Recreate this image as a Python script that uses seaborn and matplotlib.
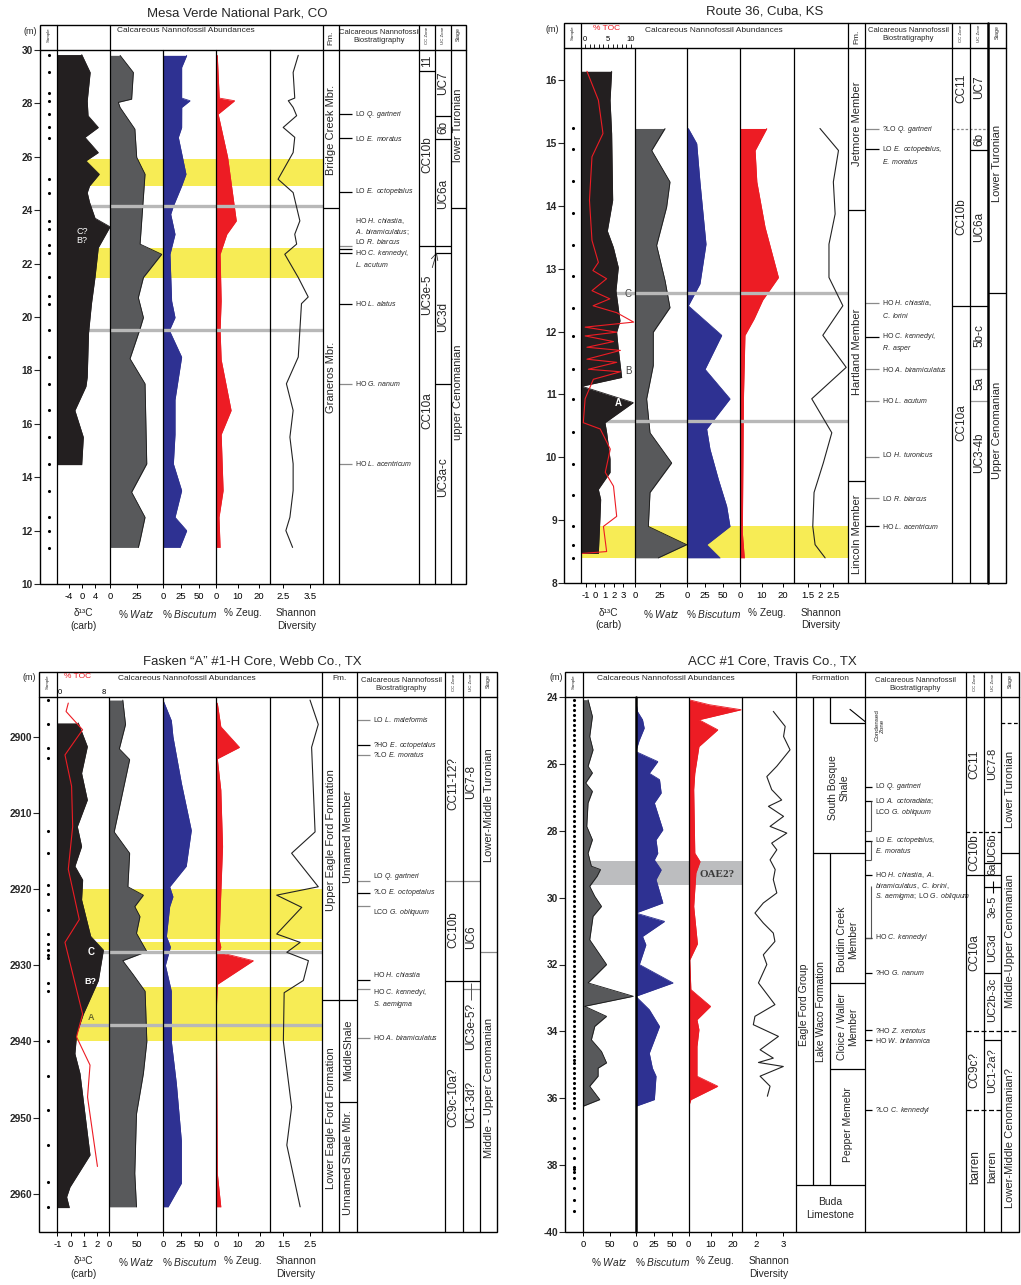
import matplotlib
matplotlib.use("Agg")
import matplotlib.pyplot as plt
from matplotlib.ticker import MultipleLocator
from matplotlib.patches import Rectangle
from matplotlib import font_manager as fm
import seaborn as sns

# ------------------------------------------------------------------ DATA
# ---- Mesa Verde National Park, CO (depth in m)
MV_SAMPLE_DEPTH = [29.83, 29.16, 28.4, 28.1, 27.6, 27.1, 26.7, 25.16, 24.66, 23.6, 23.3, 22.7, 22.4,
                   21.5, 20.8, 20.5, 19.5, 18.5, 17.5, 16.5, 15.5, 14.5, 13.5, 12.5, 12.0, 11.35]
MV_D13C_DEPTH = [29.83, 29.16, 28.1, 27.54, 27.1, 26.73, 26.16, 25.85, 25.35, 24.91, 24.66, 24.3,
                 23.7, 23.38, 22.6, 21.5, 20.5, 19.4, 17.75, 17.4, 16.5, 15.5, 14.47]
MV_D13C = [-0.1, 2.5, 1.6, 1.85, 5.0, 0.9, 5.0, 1.2, 5.3, 2.3, 1.6, 2.3,
           4.0, 8.6, 5.0, 4.0, 2.9, 2.0, 1.6, 1.2, -2.2, 0.4, -0.1]
MV_WATZ_DEPTH = [29.8, 29.16, 28.16, 28.04, 27.85, 27.04, 25.98, 25.35, 22.73, 22.35, 21.48,
                 20.73, 19.98, 19.56, 18.44, 17.5, 14.5, 13.44, 12.5, 11.63, 11.37]
MV_WATZ = [9.3, 21.6, 20.0, 7.7, 9.3, 23.0, 24.7, 32.4, 27.8, 47.8, 30.9,
           26.2, 30.9, 27.8, 18.5, 32.4, 34.0, 20.0, 32.4, 27.8, 26.2]
MV_BISC_DEPTH = [29.8, 29.35, 28.2, 28.1, 27.85, 27.1, 26.73, 25.35, 24.91, 24.16, 23.85, 23.1,
                 22.35, 20.6, 19.98, 19.5, 18.5, 16.9, 15.6, 14.5, 13.5, 12.5, 12.0, 11.37]
MV_BISC = [32.9, 25.9, 25.9, 37.5, 26.0, 25.9, 21.3, 31.9, 25.9, 14.4, 10.7, 16.7,
           9.7, 12.0, 16.7, 8.8, 25.9, 16.7, 16.7, 14.4, 25.9, 16.7, 32.9, 23.6]
MV_ZEUG_DEPTH = [29.8, 28.2, 28.1, 27.6, 25.98, 23.6, 23.1, 22.35, 20.6, 19.5, 18.4, 16.5,
                 15.6, 13.5, 12.5, 11.37]
MV_ZEUG = [0.6, 1.5, 8.6, 1.0, 5.4, 9.4, 5.0, 1.9, 2.4, 1.9, 2.4, 7.0, 2.4, 3.3, 1.4, 1.9]
MV_SHAN_DEPTH = [29.8, 29.16, 28.2, 28.1, 27.85, 27.54, 27.1, 26.73, 26.16, 25.16, 24.66, 23.6,
                 23.1, 22.73, 22.35, 21.48, 20.75, 20.5, 19.5, 18.5, 17.5, 16.5, 15.5, 14.5,
                 13.5, 12.5, 12.0, 11.37]
MV_SHAN = [3.06, 2.87, 2.93, 2.69, 2.87, 3.0, 2.5, 2.93, 2.87, 2.31, 2.87, 3.12,
           2.93, 3.0, 2.56, 3.06, 3.43, 3.18, 3.12, 3.06, 2.62, 2.87, 2.75, 2.87,
           2.87, 2.75, 2.6, 2.85]
MV_YELLOW_TOP = [25.9, 22.6]
MV_YELLOW_BASE = [24.9, 21.45]
MV_GRAY = [24.16, 19.5]
MV_FM_BOUNDS = [24.08]
MV_FM_NAMES = ["Bridge Creek Mbr.", "Graneros Mbr."]
MV_FM_MID = [27.0, 17.75]
MV_EVENT_DEPTH = [27.6, 26.7, 24.69, 22.66, 22.54, 22.39, 20.5, 17.5, 14.5]
MV_EVENT_KIND = ['firm', 'firm', 'firm', 'approx', 'firm', 'firm', 'firm', 'approx', 'approx']
MV_LABEL_DEPTH = [27.6, 26.7, 24.69, 23.58, 23.2, 22.83, 22.38, 21.98, 20.5, 17.5, 14.5]
MV_LABELS = ["LO |Q. gartneri|", "LO |E. moratus|", "LO |E. octopetalus|", "HO |H. chiastia,|",
             "|A. biramiculatus;|", "LO |R. biarcus|", "HO |C. kennedyi,|", "|L. acutum|",
             "HO |L. alatus|", "HO |G. nanum|", "HO |L. acentricum|"]
MV_CC_NAMES = ["11", "CC10b", "CC10a"]
MV_CC_MID = [29.6, 26.1, 16.5]
MV_UC_NAMES = ["UC7", "6b", "UC6a", "UC3e-5", "UC3d", "UC3a-c"]
MV_UC_MID = [28.75, 27.1, 24.6, 20.85, 20.0, 14.0]
MV_STAGE_NAMES = ["lower Turonian", "upper Cenomanian"]
MV_STAGE_MID = [27.2, 17.2]

# ---- Route 36, Cuba, KS
RT_SAMPLE_DEPTH = [15.23, 14.9, 14.39, 13.89, 13.38, 12.89, 12.38, 11.93, 11.4, 10.92, 10.4,
                   9.9, 9.4, 8.9, 8.6, 8.4]
RT_D13C_DEPTH = [16.14, 15.68, 15.15, 14.09, 13.6, 13.34, 13.02, 12.65, 12.17, 11.99, 11.72,
                 11.27, 11.13, 10.87, 10.55, 10.39, 9.97, 9.76, 9.49, 9.33, 9.06, 8.47]
RT_D13C = [1.77, 1.6, 1.77, 1.88, 1.31, 1.95, 2.48, 2.23, 2.66, 2.3, 2.48,
           2.84, -1.42, 4.07, 1.06, 1.24, 1.6, 1.6, 0.35, 0.6, 0.53, 0.35]
RT_TOC_DEPTH = [16.14, 15.68, 15.15, 14.78, 14.09, 13.45, 13.1, 12.97, 12.84, 12.65, 12.52, 12.41,
                12.3, 12.15, 12.07, 11.99, 11.93, 11.84, 11.75, 11.7, 11.56, 11.51, 11.4, 11.36,
                11.24, 10.93, 10.55, 10.45, 10.13, 9.76, 9.54, 9.06, 8.9, 8.5, 8.47]
RT_TOC = [0.4, 2.9, 3.9, 1.5, 0.95, 1.5, 2.9, 1.7, 4.7, 1.5, 5.4, 1.75,
          6.9, 10.6, 0.0, 6.9, 0.0, 6.2, 0.4, 7.7, 0.4, 6.9, 0.7, 7.7,
          1.8, 0.0, -0.4, 3.3, 5.5, 4.4, 6.2, 6.9, 4.0, 4.7, -0.7]
RT_WATZ_DEPTH = [15.23, 14.88, 14.38, 13.98, 13.37, 12.81, 12.38, 11.99, 11.46, 10.93, 10.39,
                 9.91, 9.44, 8.9, 8.61, 8.4]
RT_WATZ = [30.4, 16.9, 35.4, 32.0, 21.9, 30.4, 35.4, 18.5, 18.5, 11.8, 15.2, 37.1, 15.2, 13.5, 52.3, 23.6]
RT_BISC_DEPTH = [15.23, 14.99, 14.38, 13.39, 12.76, 12.41, 11.94, 11.4, 10.93, 10.45, 10.13,
                 9.65, 9.22, 8.9, 8.61, 8.4]
RT_BISC = [1.8, 13.5, 18.0, 26.4, 18.0, 1.8, 48.2, 25.0, 59.7, 27.3, 31.9, 43.5, 55.1, 59.7, 27.3, 45.8]
RT_ZEUG_DEPTH = [15.23, 14.88, 14.38, 13.66, 12.86, 12.5, 12.2, 11.94, 10.93, 8.8, 8.4]
RT_ZEUG = [12.4, 7.0, 7.8, 11.6, 17.8, 10.5, 6.5, 2.3, 1.6, 1.1, 2.0]
RT_SHAN_DEPTH = [15.23, 14.88, 14.38, 13.87, 13.39, 12.86, 12.41, 11.94, 11.43, 10.93, 10.39,
                 9.91, 9.44, 8.9, 8.61, 8.4]
RT_SHAN = [1.98, 2.7, 2.5, 2.57, 2.33, 2.33, 2.87, 2.09, 3.0, 1.66, 2.44, 2.11, 1.75, 1.7, 1.79, 2.18]
RT_YELLOW_TOP = [8.91]
RT_YELLOW_BASE = [8.39]
RT_GRAY = [12.62, 10.58]
RT_FM_BOUNDS = [13.94, 9.62]
RT_FM_NAMES = ["Jetmore Member", "Hartland Member", "Lincoln Member"]
RT_FM_MID = [15.3, 11.67, 8.77]
RT_EVENT_DEPTH = [15.22, 14.9, 12.45, 11.92, 11.4, 10.9, 10.0, 9.35, 8.9]
RT_EVENT_KIND = ['approx', 'firm', 'approx', 'firm', 'approx', 'approx', 'approx', 'approx', 'firm']
RT_LABEL_DEPTH = [15.22, 14.9, 14.71, 12.45, 12.25, 11.92, 11.73, 11.4, 10.9, 10.05, 9.35, 8.9]
RT_LABELS = ["?LO |Q. gartneri|", "LO |E. octopetalus,|", "|E. moratus|", "HO |H. chiastia,|",
             "|C. lorini|", "HO |C. kennedyi,|", "|R. asper|", "HO |A. biramiculatus|",
             "HO |L. acutum|", "LO |H. turonicus|", "LO |R. biarcus|", "HO |L. acentricum|"]
RT_CC_NAMES = ["CC11", "CC10b", "CC10a"]
RT_CC_MID = [15.87, 13.82, 10.55]
RT_UC_NAMES = ["UC7", "6b", "UC6a", "5b-c", "5a", "UC3-4b"]
RT_UC_MID = [15.88, 15.05, 13.66, 11.94, 11.17, 10.07]
RT_STAGE_NAMES = ["Lower Turonian", "Upper Cenomanian"]
RT_STAGE_MID = [14.67, 10.42]

# ---- Fasken "A" #1-H Core, Webb Co., TX (depth in m)
FK_SAMPLE_DEPTH = [2895.2, 2898.3, 2901.5, 2902.8, 2912.4, 2915.3, 2919.5, 2920.7, 2922.7, 2925.9,
                   2927.2, 2928.0, 2928.6, 2929.1, 2932.3, 2933.4, 2939.9, 2944.5, 2949.0, 2953.6,
                   2958.4, 2961.7]
FK_D13C_DEPTH = [2898.2, 2901.3, 2904.8, 2908.3, 2911.8, 2914.4, 2917.0, 2918.8, 2921.4, 2926.2,
                 2928.0, 2932.0, 2936.4, 2939.0, 2941.6, 2944.2, 2949.5, 2954.9, 2959.1, 2960.4, 2961.8]
FK_D13C = [0.57, 1.25, 0.82, 1.25, 0.5, 0.82, 0.32, 0.9, 0.82, 1.5,
           2.45, 2.07, 0.95, 0.45, 0.32, 0.7, 1.07, 1.45, -0.05, -0.3, -0.1]
FK_TOC_DEPTH = [2895.6, 2896.7, 2899.1, 2902.4, 2906.5, 2911.8, 2917.4, 2924.0, 2927.0, 2936.4,
                2939.4, 2943.1, 2947.3, 2956.4]
FK_TOC = [1.5, 1.1, 4.1, 0.9, 2.1, 2.3, 1.5, 3.5, 0.9, 4.1, 3.0, 5.45, 5.0, 6.8]
FK_WATZ_DEPTH = [2895.2, 2898.4, 2901.6, 2903.0, 2912.5, 2915.3, 2919.7, 2920.8, 2922.3, 2923.6,
                 2925.8, 2928.2, 2929.4, 2931.2, 2933.4, 2940.0, 2944.2, 2949.5, 2957.3, 2961.7]
FK_WATZ = [25.0, 30.0, 18.7, 37.5, 9.4, 37.5, 34.3, 62.4, 46.8, 56.2,
           49.9, 68.7, 25.0, 43.7, 65.5, 68.7, 62.4, 49.9, 46.8, 49.9]
FK_BISC_DEPTH = [2895.2, 2897.9, 2900.0, 2906.1, 2912.3, 2917.0, 2919.7, 2921.0, 2922.3, 2926.2,
                 2927.6, 2930.0, 2933.4, 2940.0, 2945.5, 2953.0, 2958.6, 2961.7]
FK_BISC = [0.0, 11.5, 13.7, 25.3, 39.0, 32.0, 9.2, 13.7, 9.2, 4.7, 10.2, 3.3, 11.5, 11.5, 18.4, 25.3, 25.3, 6.9]
FK_ZEUG_DEPTH = [2895.6, 2898.7, 2901.4, 2902.9, 2907.0, 2914.4, 2926.6, 2927.6, 2928.3, 2929.4,
                 2932.5, 2935.5, 2957.3, 2961.7]
FK_ZEUG = [0.6, 2.2, 10.7, 0.6, 2.2, 3.0, 1.4, 2.2, 1.4, 17.0, 0.6, 0.2, 0.6, 2.2]
FK_SHAN_DEPTH = [2895.2, 2898.4, 2901.4, 2912.5, 2915.3, 2919.7, 2920.8, 2922.4, 2925.9, 2927.0,
                 2928.3, 2929.4, 2932.0, 2933.6, 2940.0, 2948.6, 2953.6, 2961.7]
FK_SHAN = [2.5, 2.81, 2.56, 2.69, 1.81, 2.81, 1.25, 2.19, 1.25, 2.13, 1.63, 2.44, 2.25, 1.53, 1.5, 1.81, 1.63, 2.13]
FK_YELLOW_TOP = [2920.0, 2926.9, 2932.8]
FK_YELLOW_BASE = [2926.6, 2928.0, 2940.0]
FK_GRAY = [2928.3, 2937.8]
FK_FM_OUTER_BOUNDS = [2934.6]
FK_FM_OUTER_NAMES = ["Upper Eagle Ford Formation", "Lower Eagle Ford Formation"]
FK_FM_OUTER_MID = [2913.6, 2950.0]
FK_FM_INNER_BOUNDS = [2934.6, 2947.9]
FK_FM_INNER_NAMES = ["Unnamed Member", "MiddleShale", "Unnamed Shale Mbr."]
FK_FM_INNER_MID = [2913.1, 2941.2, 2955.9]
FK_EVENT_DEPTH = [2897.8, 2901.1, 2902.4, 2919.0, 2920.5, 2922.2, 2931.9, 2933.1, 2939.5]
FK_EVENT_KIND = ['approx', 'firm', 'approx', 'approx', 'firm', 'approx', 'firm', 'approx', 'approx']
FK_LABEL_DEPTH = [2897.8, 2901.1, 2902.4, 2918.3, 2920.4, 2923.1, 2931.2, 2933.6, 2935.2, 2939.5]
FK_LABELS = ["LO |L. maleformis|", "?HO |E. octopetalus|", "?LO |E. moratus|", "LO |Q. gartneri|",
             "?LO |E. octopetalus|", "LCO |G. obliquum|", "HO |H. chiastia|", "HO |C. kennedyi,|",
             "|S. aemigma|", "HO |A. biramiculatus|"]
FK_CC_NAMES = ["CC11-12?", "CC10b", "CC9c-10a?"]
FK_CC_MID = [2906.2, 2925.3, 2947.3]
FK_UC_NAMES = ["UC7-8", "UC6", "UC3e-5?", "UC1-3d?"]
FK_UC_MID = [2906.0, 2926.3, 2938.0, 2948.3]
FK_STAGE_NAMES = ["Lower-Middle Turonian", "Middle - Upper Cenomanian"]
FK_STAGE_MID = [2909.0, 2946.1]

# ---- ACC #1 Core, Travis Co., TX
ACC_SAMPLE_DEPTH = [24.1, 24.25, 24.4, 24.55, 24.7, 24.85, 25.0, 25.15, 25.3, 25.45, 25.6, 25.75,
                    25.9, 26.05, 26.2, 26.35, 26.5, 26.65, 26.8, 26.95, 27.1, 27.25, 27.4, 27.55,
                    27.7, 27.85, 28.0, 28.15, 28.3, 28.45, 28.6, 28.75, 28.9, 29.05, 29.2, 29.35,
                    29.5, 29.65, 29.8, 29.95, 30.1, 30.25, 30.4, 30.55, 30.7, 30.85, 31.0, 31.15,
                    31.3, 31.45, 31.6, 31.75, 31.9, 32.05, 32.2, 32.35, 32.5, 32.65, 32.8, 32.95,
                    33.1, 33.25, 33.4, 33.55, 33.7, 33.85, 34.0, 34.15, 34.3, 34.45, 34.6, 34.75,
                    34.85, 34.95, 35.1, 35.25, 35.4, 35.55, 35.7, 35.85, 36.0, 36.15, 36.3, 36.6,
                    36.9, 37.2, 37.5, 37.8, 38.05, 38.12, 38.2, 38.38, 38.68, 39.05, 39.38]
ACC_WATZ_DEPTH = [24.08, 24.58, 25.18, 25.58, 26.07, 26.27, 26.57, 26.82, 27.17, 27.87,
                  28.27, 28.67, 29.06, 29.16, 29.36, 29.66, 29.96, 30.26, 30.56, 31.26,
                  32.0, 32.55, 32.95, 33.25, 33.55, 33.85, 34.25, 34.6, 34.94, 35.1,
                  35.34, 35.64, 36.04, 36.24]
ACC_WATZ = [9.4, 17.5, 12.5, 18.7, 9.4, 17.5, 5.0, 17.5, 9.4, 7.0,
            17.5, 9.4, 15.6, 32.5, 26.2, 12.5, 21.9, 34.4, 18.7, 12.5,
            43.8, 9.4, 93.6, 3.1, 43.8, 21.9, 15.6, 34.4, 43.8, 28.1,
            28.1, 12.5, 31.2, 0.0]
ACC_BISC_DEPTH = [24.08, 24.43, 24.68, 24.93, 25.3, 25.63, 25.93, 26.28, 26.47, 26.87,
                  27.17, 27.97, 28.27, 28.67, 28.87, 29.17, 29.46, 30.16, 30.46, 30.71,
                  31.16, 31.41, 32.0, 32.55, 32.95, 33.35, 33.85, 34.65, 35.1, 35.34,
                  36.04, 36.24]
ACC_BISC = [0.0, 2.3, 9.4, 11.7, 4.7, 0.0, 30.4, 18.7, 32.8, 35.1,
            25.7, 37.4, 28.0, 30.4, 25.7, 35.1, 28.0, 37.4, 0.0, 39.7,
            9.4, 14.0, 5.0, 51.4, 0.0, 18.7, 32.8, 18.7, 23.0, 28.0,
            25.7, 0.0]
ACC_ZEUG_DEPTH = [24.08, 24.23, 24.38, 24.68, 24.98, 25.48, 26.28, 26.77, 28.67, 28.92,
                  29.26, 30.26, 31.38, 31.86, 32.75, 33.25, 33.65, 33.95, 34.45, 35.34,
                  35.64, 36.04, 36.24]
ACC_ZEUG = [0.0, 9.4, 24.0, 4.7, 13.3, 4.7, 2.8, 2.3, 2.8, 5.2,
            3.3, 2.3, 4.0, 0.5, 1.0, 10.0, 3.8, 4.7, 3.8, 3.8,
            13.3, 1.0, 0.0]
ACC_SHAN_DEPTH = [24.43, 24.88, 25.18, 25.58, 26.07, 26.38, 26.77, 27.08, 27.27, 27.57,
                  27.87, 28.07, 28.37, 28.57, 28.87, 29.16, 29.46, 29.86, 30.16, 30.46,
                  30.76, 31.06, 31.31, 31.71, 32.0, 32.55, 33.2, 33.55, 33.8, 34.15,
                  34.55, 34.8, 34.93, 35.05, 35.34, 35.64, 35.94]
ACC_SHAN = [2.65, 3.09, 3.03, 3.27, 2.78, 2.41, 2.59, 2.96, 2.47, 3.03,
            2.53, 3.15, 2.59, 2.78, 2.53, 2.72, 2.65, 2.78, 2.28, 1.97,
            2.28, 2.65, 2.71, 2.28, 2.41, 2.1, 2.71, 1.97, 1.91, 2.84,
            2.16, 2.65, 2.1, 3.02, 2.16, 2.53, 2.43]
ACC_OAE_TOP = [28.9]
ACC_OAE_BASE = [29.63]
ACC_EVENT_DEPTH = [26.69, 27.12, 28.3, 29.32, 31.2, 32.25, 33.97, 34.27, 36.36]
ACC_LABEL_DEPTH = [26.69, 27.12, 27.45, 28.3, 28.6, 29.32, 29.64, 29.96, 31.2, 32.25, 33.97, 34.27, 36.36]
ACC_LABELS = ["LO |Q. gartneri|", "LO |A. octoradiata;|", "LCO |G. obliquum|", "LO |E. octopetalus,|",
              "|E. moratus|", "HO |H. chiastia, A.|", "|biramiculatus, C. lorini,|",
              "|S. aemigma;| LO |G. obliquum|", "HO |C. kennedyi|", "?HO |G. nanum|",
              "?HO |Z. xenotus|", "HO |W. britannica|", "?LO |C. kennedyi|"]
ACC_BRACKET_TOP = [27.12, 28.3, 29.64]
ACC_BRACKET_BASE = [28.02, 28.87, 31.2]
ACC_CC_NAMES = ["CC11", "CC10b", "CC10a", "CC9c?", "barren"]
ACC_CC_MID = [26.0, 28.65, 31.65, 35.15, 38.05]
ACC_UC_NAMES = ["UC7-8", "UC6b", "6a", "3e-5", "UC3d", "UC2b-3c", "UC1-2a?", "barren"]
ACC_UC_MID = [26.0, 28.5, 29.13, 30.27, 31.5, 33.05, 35.17, 38.05]
ACC_STAGE_NAMES = ["Lower Turonian", "Middle-Upper Cenomanian", "Lower-Middle Cenomanian?"]
ACC_STAGE_MID = [26.75, 31.3, 37.2]

# ------------------------------------------------------------------ STYLE
sns.set_theme(style="white")
_names = {f.name for f in fm.fontManager.ttflist}
NARROW_NAME = 'Liberation Sans Narrow' if 'Liberation Sans Narrow' in _names else 'Liberation Sans'
NARROW = [NARROW_NAME, 'DejaVu Sans']
plt.rcParams['font.family'] = ['Liberation Sans', 'DejaVu Sans']
plt.rcParams['mathtext.fontset'] = 'custom'
plt.rcParams['mathtext.rm'] = NARROW_NAME
plt.rcParams['mathtext.it'] = NARROW_NAME + ':italic'
plt.rcParams['mathtext.bf'] = NARROW_NAME + ':bold'
plt.rcParams['axes.unicode_minus'] = False

BLACK_C = '#231f20'
WATZ_C = '#58595b'
BISC_C = '#2e3192'
RED_C = '#ed1c24'
YELLOW = '#f7ec55'
GRAYLINE = '#b8b8b8'
EVENT_COL = {'firm': 'black', 'approx': '#8a8a8a'}

W, H = 1021, 1285
fig = plt.figure(figsize=(W / 100, H / 100), dpi=100)


def frac(x0, y0, x1, y1):
    return [x0 / W, 1 - y1 / H, (x1 - x0) / W, (y1 - y0) / H]


def fmt(s):
    parts = s.split('|')
    out = ''
    for i, p in enumerate(parts):
        if i % 2 == 1 and p:
            out += '$\\mathit{' + p.replace(' ', '\\ ') + '}$'
        else:
            out += p
    return out


def depth_axes(P, x0, x1):
    ax = fig.add_axes(frac(x0, P['hbot'], x1, P['bot']))
    ax.set_facecolor('none')
    ax.grid(False)
    for s in ax.spines.values():
        s.set_visible(False)
    ax.set_ylim(P['d_bot'], P['d_top'])
    ax.set_yticks([])
    return ax


def data_col(P, key, xlim, ticks):
    ax = depth_axes(P, *P[key])
    ax.set_xlim(*xlim)
    ax.set_xticks(ticks)
    ax.set_xticklabels(['%g' % t for t in ticks])
    ax.tick_params(axis='x', bottom=True, top=False, direction='out', length=3, width=0.7,
                   labelsize=6.8, pad=2.5, colors='black')
    return ax


def profile(ax, depth, vals, color, edge, lw=0.6, fill=True, z=2):
    if fill:
        ax.fill_betweenx(depth, ax.get_xlim()[0], vals, color=color, lw=0, zorder=z)
    sns.lineplot(x=vals, y=depth, ax=ax, sort=False, estimator=None, color=edge, lw=lw, zorder=z + 0.1)
    ax.set_xlabel('')
    ax.set_ylabel('')


def bands(ax, tops, bases, grays, gray_z, color=YELLOW):
    for a, b in zip(tops, bases):
        ax.axhspan(min(a, b), max(a, b), color=color, lw=0, zorder=1)
    for g in grays:
        ax.axhline(g, color=GRAYLINE, lw=2.4, zorder=gray_z)


def sample_col(P, depths, ticks, labels):
    ax = depth_axes(P, *P['samp'])
    ax.set_xlim(0, 1)
    sns.scatterplot(x=[0.5] * len(depths), y=depths, ax=ax, color='black', s=5, linewidth=0, zorder=3)
    ax.set_xlabel('')
    ax.set_ylabel('')
    ax.set_xticks([])
    ax.set_yticks(ticks)
    ax.set_yticklabels(labels)
    ax.tick_params(axis='y', left=True, direction='out', length=4, width=0.8, labelsize=7.3, pad=1)
    for lab in ax.get_yticklabels():
        lab.set_fontweight('bold')
    return ax


def toc_axis(ax, P, depth, vals, xlim, ticks, minor, ticklen):
    tax = ax.twiny()
    tax.set_xlim(*xlim)
    tax.set_ylim(P['d_bot'], P['d_top'])
    for s in tax.spines.values():
        s.set_visible(False)
    tax.grid(False)
    sns.lineplot(x=vals, y=depth, ax=tax, sort=False, estimator=None, color=RED_C, lw=0.8, zorder=4)
    tax.set_xlabel('')
    tax.set_ylabel('')
    tax.set_xticks(ticks)
    tax.set_xticklabels(['%g' % t for t in ticks])
    if minor:
        tax.xaxis.set_minor_locator(MultipleLocator(1))
    tax.tick_params(axis='x', which='both', top=True, bottom=False, labeltop=True, labelbottom=False,
                    direction='out', length=ticklen, width=0.6, labelsize=5.5, pad=0.5, colors='black')
    tax.set_yticks([])
    return tax


def strat_axes(P, x0):
    ax = fig.add_axes(frac(x0, P['hbot'], P['right'], P['bot']))
    ax.set_xlim(x0, P['right'])
    ax.set_ylim(P['d_bot'], P['d_top'])
    ax.axis('off')
    return ax


def vlabels(sax, xc, depths, names, size=8.0, family=None):
    for d, t in zip(depths, names):
        sax.text(xc, d, t, rotation=90, ha='center', va='center', fontsize=size,
                 family=family if family else ['Liberation Sans', 'DejaVu Sans'])


def events(sax, x0, x1, depths, kinds):
    for d, k in zip(depths, kinds):
        sax.hlines(d, x0, x1, color=EVENT_COL[k], lw=0.9)


def elabels(sax, x, depths, texts, size=5.0):
    for d, t in zip(depths, texts):
        sax.text(x, d, fmt(t), fontsize=size, va='center', ha='left', family=NARROW)


def hb(sax, d, x0, x1, ls='-', color='black', lw=0.9):
    sax.hlines(d, x0, x1, colors=color, linestyles=ls, lw=lw)


# ------------------------------------------------------------------ PANEL LAYOUTS
P1 = dict(left=40, right=466, htop=25, hbot=50, bot=584, d_top=30.0, d_bot=10.0,
          samp=(40, 57), d13c=(57, 110), watz=(110, 163), bisc=(163, 216), zeug=(216, 270), shan=(270, 323))
P2 = dict(left=564, right=1006, htop=23, hbot=48, bot=583, d_top=16.51, d_bot=8.0,
          samp=(564, 581), d13c=(581, 635), watz=(635, 687), bisc=(687, 740), zeug=(740, 794), shan=(794, 848))
P3 = dict(left=39, right=497, htop=672, hbot=697, bot=1232, d_top=2894.8, d_bot=2965.0,
          samp=(39, 57), d13c=(57, 109), watz=(109, 163), bisc=(163, 216), zeug=(216, 269.5), shan=(269.5, 322))
P4 = dict(left=565, right=1019, htop=672, hbot=697, bot=1232, d_top=24.0, d_bot=40.0,
          samp=(565, 583), watz=(583, 635.7), bisc=(635.7, 688.7), zeug=(688.7, 742), shan=(742, 795.7))

# ================================================================== PANEL 1
sample_col(P1, MV_SAMPLE_DEPTH, list(range(10, 31, 2)), [str(t) for t in range(10, 31, 2)])
ax = data_col(P1, 'd13c', (-7.7, 8.6), [-4, 0, 4])
bands(ax, MV_YELLOW_TOP, MV_YELLOW_BASE, MV_GRAY, 1.5)
profile(ax, MV_D13C_DEPTH, MV_D13C, BLACK_C, BLACK_C)
ax.text(0.0, 23.05, 'C?\nB?', color='white', fontsize=6.5, ha='center', va='center', linespacing=1.0,
        family=NARROW, zorder=5)
ax = data_col(P1, 'watz', (0, 49), [0, 25])
bands(ax, MV_YELLOW_TOP, MV_YELLOW_BASE, MV_GRAY, 3)
profile(ax, MV_WATZ_DEPTH, MV_WATZ, WATZ_C, '#1a1a1a')
ax = data_col(P1, 'bisc', (0, 73.6), [0, 25, 50])
bands(ax, MV_YELLOW_TOP, MV_YELLOW_BASE, MV_GRAY, 3)
profile(ax, MV_BISC_DEPTH, MV_BISC, BISC_C, BISC_C)
ax = data_col(P1, 'zeug', (0, 25), [0, 10, 20])
bands(ax, MV_YELLOW_TOP, MV_YELLOW_BASE, MV_GRAY, 3)
profile(ax, MV_ZEUG_DEPTH, MV_ZEUG, RED_C, RED_C)
ax = data_col(P1, 'shan', (2.01, 3.98), [2.5, 3.5])
bands(ax, MV_YELLOW_TOP, MV_YELLOW_BASE, MV_GRAY, 1.5)
profile(ax, MV_SHAN_DEPTH, MV_SHAN, None, '#222222', lw=0.8, fill=False)

sax = strat_axes(P1, 323)
for b in MV_FM_BOUNDS:
    hb(sax, b, 323, 339)
vlabels(sax, 331, MV_FM_MID, MV_FM_NAMES)
events(sax, 339, 352, MV_EVENT_DEPTH, MV_EVENT_KIND)
elabels(sax, 355, MV_LABEL_DEPTH, MV_LABELS)
hb(sax, 29.2, 419, 435)
hb(sax, 22.66, 419, 451)
for b in [27.54, 26.66, 22.4, 17.5]:
    hb(sax, b, 435, 451)
hb(sax, 24.08, 451, 466)
vlabels(sax, 427, MV_CC_MID, MV_CC_NAMES, size=8.5)
vlabels(sax, 443, [MV_UC_MID[i] for i in (0, 1, 2, 4, 5)], [MV_UC_NAMES[i] for i in (0, 1, 2, 4, 5)], size=8.5)
vlabels(sax, 427, [MV_UC_MID[3]], [MV_UC_NAMES[3]], size=8.5)
sax.annotate('', xy=(437.5, 22.52), xytext=(431.5, 21.75),
             arrowprops=dict(arrowstyle='->', lw=0.6, color='#333333'))
vlabels(sax, 458.5, MV_STAGE_MID, MV_STAGE_NAMES)

# ================================================================== PANEL 2
sample_col(P2, RT_SAMPLE_DEPTH, list(range(8, 17)), [str(t) for t in range(8, 17)])
ax = data_col(P2, 'd13c', (-1.5, 4.26), [-1, 0, 1, 2, 3])
bands(ax, RT_YELLOW_TOP, RT_YELLOW_BASE, RT_GRAY, 1.5)
profile(ax, RT_D13C_DEPTH, RT_D13C, BLACK_C, BLACK_C)
toc_axis(ax, P2, RT_TOC_DEPTH, RT_TOC, (-0.9, 10.9), [0, 5, 10], True, 3)
ax.text(3.5, 12.6, 'C', color='#444444', fontsize=7, ha='center', va='center', zorder=6)
ax.text(3.6, 11.37, 'B', color='#444444', fontsize=7, ha='center', va='center', zorder=6)
ax.text(2.45, 10.87, 'A', color='white', fontsize=7, fontweight='bold', ha='center', va='center', zorder=6)
ax = data_col(P2, 'watz', (0, 52.6), [0, 25])
bands(ax, RT_YELLOW_TOP, RT_YELLOW_BASE, RT_GRAY, 3)
profile(ax, RT_WATZ_DEPTH, RT_WATZ, WATZ_C, '#1a1a1a')
ax = data_col(P2, 'bisc', (0, 73.6), [0, 25, 50])
bands(ax, RT_YELLOW_TOP, RT_YELLOW_BASE, RT_GRAY, 3)
profile(ax, RT_BISC_DEPTH, RT_BISC, BISC_C, BISC_C)
ax = data_col(P2, 'zeug', (0, 25), [0, 10, 20])
bands(ax, RT_YELLOW_TOP, RT_YELLOW_BASE, RT_GRAY, 3)
profile(ax, RT_ZEUG_DEPTH, RT_ZEUG, RED_C, RED_C)
ax = data_col(P2, 'shan', (0.97, 3.07), [1.5, 2, 2.5])
bands(ax, RT_YELLOW_TOP, RT_YELLOW_BASE, RT_GRAY, 1.5)
profile(ax, RT_SHAN_DEPTH, RT_SHAN, None, '#222222', lw=0.8, fill=False)

sax = strat_axes(P2, 848)
for b in RT_FM_BOUNDS:
    hb(sax, b, 848, 865)
vlabels(sax, 856.5, RT_FM_MID, RT_FM_NAMES)
events(sax, 865, 879, RT_EVENT_DEPTH, RT_EVENT_KIND)
elabels(sax, 882, RT_LABEL_DEPTH, RT_LABELS)
hb(sax, 15.22, 952, 988, ls=(0, (2, 1.5)), color='#888888')
hb(sax, 14.88, 970, 988)
hb(sax, 12.41, 952, 988)
hb(sax, 11.4, 970, 988, color='#999999')
hb(sax, 10.9, 970, 988, color='#999999')
hb(sax, 12.62, 988, 1006)
vlabels(sax, 961, RT_CC_MID, RT_CC_NAMES, size=8.5)
vlabels(sax, 979, RT_UC_MID, RT_UC_NAMES, size=8.5)
vlabels(sax, 997, RT_STAGE_MID, RT_STAGE_NAMES)

# ================================================================== PANEL 3
sample_col(P3, FK_SAMPLE_DEPTH, list(range(2900, 2961, 10)), [str(t) for t in range(2900, 2961, 10)])
ax = data_col(P3, 'd13c', (-1.02, 2.87), [-1, 0, 1, 2])
bands(ax, FK_YELLOW_TOP, FK_YELLOW_BASE, FK_GRAY, 1.5)
profile(ax, FK_D13C_DEPTH, FK_D13C, BLACK_C, BLACK_C)
toc_axis(ax, P3, FK_TOC_DEPTH, FK_TOC, (-0.55, 8.9), [0, 8], False, 0)
ax.text(1.57, 2928.2, 'C', color='white', fontsize=7, fontweight='bold', ha='center', va='center', zorder=6)
ax.text(1.45, 2932.1, 'B?', color='white', fontsize=6.5, fontweight='bold', ha='center', va='center', zorder=6)
ax.text(1.5, 2936.9, 'A', color='#6b6a2a', fontsize=6.5, fontweight='bold', ha='center', va='center', zorder=6)
ax = data_col(P3, 'watz', (0, 98), [0, 50])
bands(ax, FK_YELLOW_TOP, FK_YELLOW_BASE, FK_GRAY, 3)
profile(ax, FK_WATZ_DEPTH, FK_WATZ, WATZ_C, '#1a1a1a')
ax = data_col(P3, 'bisc', (0, 73), [0, 25, 50])
bands(ax, FK_YELLOW_TOP, FK_YELLOW_BASE, FK_GRAY, 3)
profile(ax, FK_BISC_DEPTH, FK_BISC, BISC_C, BISC_C)
ax = data_col(P3, 'zeug', (0, 24.4), [0, 10, 20])
bands(ax, FK_YELLOW_TOP, FK_YELLOW_BASE, FK_GRAY, 3)
profile(ax, FK_ZEUG_DEPTH, FK_ZEUG, RED_C, RED_C)
ax = data_col(P3, 'shan', (0.98, 2.95), [1.5, 2.5])
bands(ax, FK_YELLOW_TOP, FK_YELLOW_BASE, FK_GRAY, 1.5)
profile(ax, FK_SHAN_DEPTH, FK_SHAN, None, '#222222', lw=0.8, fill=False)

sax = strat_axes(P3, 322)
for b in FK_FM_OUTER_BOUNDS:
    hb(sax, b, 322, 339)
for b in FK_FM_INNER_BOUNDS:
    hb(sax, b, 339, 357)
vlabels(sax, 330.5, FK_FM_OUTER_MID, FK_FM_OUTER_NAMES)
vlabels(sax, 348, FK_FM_INNER_MID, FK_FM_INNER_NAMES)
events(sax, 357, 370, FK_EVENT_DEPTH, FK_EVENT_KIND)
elabels(sax, 373, FK_LABEL_DEPTH, FK_LABELS)
hb(sax, 2919.0, 445, 480, color='#888888')
hb(sax, 2932.0, 445, 480)
hb(sax, 2933.1, 462.7, 480, color='#888888')
sax.vlines(471, 2932.3, 2934.6, color='#555555', lw=0.7)
hb(sax, 2928.3, 480, 497, color='#888888')
vlabels(sax, 453.8, FK_CC_MID, FK_CC_NAMES, size=8.5)
vlabels(sax, 471.3, FK_UC_MID, FK_UC_NAMES, size=8.5)
vlabels(sax, 488.5, FK_STAGE_MID, FK_STAGE_NAMES)

# ================================================================== PANEL 4
sample_col(P4, ACC_SAMPLE_DEPTH, list(range(24, 41, 2)), [str(t) for t in range(24, 39, 2)] + ['-40'])
ax = data_col(P4, 'watz', (0, 98), [0, 50])
bands(ax, ACC_OAE_TOP, ACC_OAE_BASE, [], 3, color='#bcbdbf')
profile(ax, ACC_WATZ_DEPTH, ACC_WATZ, WATZ_C, '#1a1a1a')
ax = data_col(P4, 'bisc', (0, 73), [0, 25, 50])
bands(ax, ACC_OAE_TOP, ACC_OAE_BASE, [], 3, color='#bcbdbf')
profile(ax, ACC_BISC_DEPTH, ACC_BISC, BISC_C, BISC_C)
ax = data_col(P4, 'zeug', (0, 24.4), [0, 10, 20])
bands(ax, ACC_OAE_TOP, ACC_OAE_BASE, [], 3, color='#bcbdbf')
profile(ax, ACC_ZEUG_DEPTH, ACC_ZEUG, RED_C, RED_C)
ax.text(12.8, 29.3, 'OAE2?', color='#3a3a3a', fontsize=8, fontweight='bold', ha='center', va='center',
        family=['Liberation Serif', 'DejaVu Serif'], zorder=6)
ax = data_col(P4, 'shan', (1.49, 3.48), [2, 3])
profile(ax, ACC_SHAN_DEPTH, ACC_SHAN, None, '#222222', lw=0.8, fill=False)

sax = strat_axes(P4, 795.7)
sax.vlines(812.7, 24.0, 38.6, color='black', lw=0.9)
sax.vlines(830, 24.0, 24.77, color='black', lw=0.9)
sax.vlines(830, 28.67, 38.6, color='black', lw=0.9)
hb(sax, 24.77, 830, 865.3)
hb(sax, 28.67, 812.7, 865.3)
hb(sax, 32.55, 830, 865.3)
hb(sax, 35.14, 830, 865.3)
hb(sax, 38.6, 795.7, 865.3)
sax.plot([850, 865.3], [24.37, 24.74], color='black', lw=0.8)
vlabels(sax, 804.2, [33.2], ["Eagle Ford Group"], size=7.5)
vlabels(sax, 821.3, [33.4], ["Lake Waco Formation"], size=7.5)
vlabels(sax, 839.0, [26.72], ["South Bosque\nShale"], size=7.5)
vlabels(sax, 847.6, [31.25, 33.85, 36.8], ["Bouldin Creek\nMember", "Cloice / Waller\nMember", "Pepper Memebr"], size=7.5)
sax.text(830.5, 39.3, "Buda\nLimestone", ha='center', va='center', fontsize=7.5, linespacing=1.3)
sax.text(880, 24.85, "Condensed\nZone", rotation=90, ha='center', va='center', fontsize=4.5,
         family=NARROW, linespacing=1.1)
events(sax, 865.3, 872, ACC_EVENT_DEPTH, ['firm'] * len(ACC_EVENT_DEPTH))
for a, b in zip(ACC_BRACKET_TOP, ACC_BRACKET_BASE):
    sax.vlines(870.5, a, b, color='#555555', lw=0.8)
    hb(sax, b, 865.3, 870.5, color='#555555', lw=0.8)
elabels(sax, 875, ACC_LABEL_DEPTH, ACC_LABELS)
hb(sax, 28.04, 966, 1001.3, ls=(0, (3, 2)))
hb(sax, 28.96, 983.7, 1001.3)
hb(sax, 29.31, 966, 1001.3)
hb(sax, 29.68, 983.7, 1001.3)
sax.vlines(992.5, 29.5, 29.86, color='black', lw=0.8)
hb(sax, 32.25, 983.7, 1001.3)
hb(sax, 34.0, 966, 1019, ls=(0, (4, 2)))
hb(sax, 34.25, 983.7, 1001.3)
hb(sax, 36.35, 966, 1001.3, ls=(0, (4, 2)))
hb(sax, 24.77, 1001.3, 1019, ls=(0, (3, 2)))
hb(sax, 28.66, 1001.3, 1019)
vlabels(sax, 974.8, ACC_CC_MID, ACC_CC_NAMES, size=8.5)
vlabels(sax, 992.5, ACC_UC_MID, ACC_UC_NAMES, size=8.0)
vlabels(sax, 1010, ACC_STAGE_MID, ACC_STAGE_NAMES)

# ================================================================== OVERLAY (frames, headers)
ov = fig.add_axes([0, 0, 1, 1])
ov.set_xlim(0, W)
ov.set_ylim(H, 0)
ov.axis('off')
ov.patch.set_visible(False)


def frame(P, full, body, thick_full=(), thick_body=()):
    ov.add_patch(Rectangle((P['left'], P['htop']), P['right'] - P['left'], P['bot'] - P['htop'],
                           fill=False, lw=1.0, ec='black'))
    ov.plot([P['left'], P['right']], [P['hbot'], P['hbot']], color='black', lw=1.0)
    for x in full:
        ov.plot([x, x], [P['htop'], P['bot']], color='black', lw=0.9)
    for x in body:
        ov.plot([x, x], [P['hbot'], P['bot']], color='black', lw=0.9)
    for x in thick_full:
        ov.plot([x, x], [P['htop'], P['bot']], color='black', lw=1.8)
    for x in thick_body:
        ov.plot([x, x], [P['hbot'], P['bot']], color='black', lw=1.8)


def tiny_rot(x, y, s, size=3.2):
    ov.text(x, y, s, rotation=90, ha='center', va='top', fontsize=size, family=NARROW)


def bottom_labels(P, items):
    for key, text in items:
        x0, x1 = P[key]
        ov.text((x0 + x1) / 2, P['bot'] + 24.5, text, ha='center', va='top', fontsize=7.3, linespacing=1.3)


LBL_D13C = "δ¹³C\n(carb)"
LBL_WATZ = "% $\\mathit{Watz}$"
LBL_BISC = "% $\\mathit{Biscutum}$"
LBL_ZEUG = "% Zeug."
LBL_SHAN = "Shannon\nDiversity"
HDR_ABUND = "Calcareous Nannofossil Abundances"
HDR_BIO = "Calcareous Nannofossil\nBiostratigraphy"

# Panel 1 frame
frame(P1, [57, 110, 323, 339, 419, 435, 451], [163, 216, 270])
ov.text(237, 13, "Mesa Verde National Park, CO", ha='center', va='center', fontsize=9.5, family=NARROW)
ov.text(30, 31, "(m)", ha='center', va='center', fontsize=6.5)
tiny_rot(48.5, 27, "Sample")
ov.text(117, 31, HDR_ABUND, ha='left', va='center', fontsize=6, family=NARROW)
ov.text(331, 38, "Fm.", rotation=90, ha='center', va='center', fontsize=6, family=NARROW)
ov.text(379, 37, HDR_BIO, ha='center', va='center', fontsize=5.5, family=NARROW, linespacing=1.2)
tiny_rot(427, 27, "CC Zone")
tiny_rot(443, 27, "UC Zone")
tiny_rot(458.5, 27, "Stage", 3.8)
bottom_labels(P1, [('d13c', LBL_D13C), ('watz', LBL_WATZ), ('bisc', LBL_BISC), ('zeug', LBL_ZEUG), ('shan', LBL_SHAN)])

# Panel 2 frame
frame(P2, [581, 848, 865, 952, 970], [635, 687, 740, 794], thick_full=[988])
ov.text(765, 12, "Route 36, Cuba, KS", ha='center', va='center', fontsize=9.5, family=NARROW)
ov.text(552, 30, "(m)", ha='center', va='center', fontsize=6.5)
tiny_rot(572.5, 25, "Sample")
ov.text(607, 28, "% TOC", ha='center', va='center', fontsize=6, color=RED_C, family=NARROW)
ov.text(645, 30, HDR_ABUND, ha='left', va='center', fontsize=6, family=NARROW)
ov.text(856.5, 37, "Fm.", rotation=90, ha='center', va='center', fontsize=6, family=NARROW)
ov.text(908.5, 35, HDR_BIO, ha='center', va='center', fontsize=5.5, family=NARROW, linespacing=1.2)
tiny_rot(961, 25, "CC Zone")
tiny_rot(979, 25, "UC Zone")
tiny_rot(997, 25, "Stage", 3.8)
bottom_labels(P2, [('d13c', LBL_D13C), ('watz', LBL_WATZ), ('bisc', LBL_BISC), ('zeug', LBL_ZEUG), ('shan', LBL_SHAN)])

# Panel 3 frame
frame(P3, [57, 322, 357, 445, 462.7, 480], [109, 163, 216, 269.5, 339])
ov.text(252, 662, "Fasken “A” #1-H Core, Webb Co., TX", ha='center', va='center', fontsize=9.5, family=NARROW)
ov.text(29, 677, "(m)", ha='center', va='center', fontsize=6.5)
tiny_rot(48, 674, "Sample")
ov.text(78, 677, "% TOC", ha='center', va='center', fontsize=6, color=RED_C, family=NARROW)
ov.text(118, 679, HDR_ABUND, ha='left', va='center', fontsize=6, family=NARROW)
ov.text(339.5, 678, "Fm.", ha='center', va='center', fontsize=6, family=NARROW)
ov.text(401, 684, HDR_BIO, ha='center', va='center', fontsize=5.5, family=NARROW, linespacing=1.2)
tiny_rot(453.8, 674, "CC Zone")
tiny_rot(471.3, 674, "UC Zone")
tiny_rot(488.5, 674, "Stage", 3.8)
bottom_labels(P3, [('d13c', LBL_D13C), ('watz', LBL_WATZ), ('bisc', LBL_BISC), ('zeug', LBL_ZEUG), ('shan', LBL_SHAN)])

# Panel 4 frame
frame(P4, [583, 795.7, 865.3, 966, 983.7, 1001.3], [688.7, 742], thick_body=[635.7])
ov.text(772, 662, "ACC #1 Core, Travis Co., TX", ha='center', va='center', fontsize=9.5, family=NARROW)
ov.text(556, 677, "(m)", ha='center', va='center', fontsize=6.5)
tiny_rot(574, 674, "Sample")
ov.text(597, 679, HDR_ABUND, ha='left', va='center', fontsize=6, family=NARROW)
ov.text(830.5, 679, "Formation", ha='center', va='center', fontsize=6, family=NARROW)
ov.text(915.6, 684, HDR_BIO, ha='center', va='center', fontsize=5.5, family=NARROW, linespacing=1.2)
tiny_rot(974.8, 674, "CC Zone")
tiny_rot(992.5, 674, "UC Zone")
tiny_rot(1010, 674, "Stage", 3.8)
bottom_labels(P4, [('watz', LBL_WATZ), ('bisc', LBL_BISC), ('zeug', LBL_ZEUG), ('shan', LBL_SHAN)])

fig.savefig("out.png", dpi=100, facecolor='white')
